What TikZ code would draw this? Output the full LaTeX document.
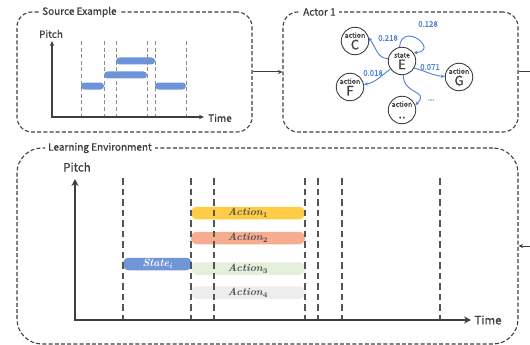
\documentclass[tikz,border=0pt]{standalone}
\usepackage{fontspec}
\newfontfamily\uifont{Noto Sans CJK KR}
\newfontfamily\uimed[FakeBold=0.9]{Noto Sans CJK KR}
\usetikzlibrary{arrows.meta}

\definecolor{ink}{HTML}{3F3F3F}
\definecolor{gridgray}{HTML}{555555}
\definecolor{notefill}{HTML}{6D93D8}
\definecolor{linkblue}{HTML}{4F80D8}
\definecolor{actone}{HTML}{FFCD45}
\definecolor{acttwo}{HTML}{F6AD8F}
\definecolor{actthree}{HTML}{E4EFDC}
\definecolor{actfour}{HTML}{EDEDED}
\definecolor{statefill}{HTML}{7096D7}
\definecolor{labelgray}{HTML}{4D4D4D}

% two-line content of a state/action circle
\newcommand{\stlabel}[2]{{\uimed\fontsize{7}{7}\selectfont #1}\\{\uimed\fontsize{13}{13}\selectfont #2}}

\begin{document}
\begin{tikzpicture}[x=1pt,y=-1pt,
  panel/.style={draw=ink, line width=1.1pt, dash pattern=on 4pt off 2.2pt, rounded corners=#1, inner sep=0pt},
  paneltitle/.style={fill=white, anchor=west, inner xsep=3pt, inner ysep=1pt, font=\uimed\fontsize{10}{12}\selectfont, text=ink},
  axislabel/.style={font=\uimed\fontsize{10}{12}\selectfont, text=ink, inner sep=0pt},
  smallaxis/.style={draw=ink, line width=1.3pt},
  bigaxis/.style={draw=ink, line width=2.4pt},
  finegrid/.style={draw=gray!90, line width=0.8pt, dash pattern=on 4pt off 2.6pt},
  coarsegrid/.style={draw=gridgray, line width=1.3pt, dash pattern=on 6.5pt off 4pt},
  notebar/.style={fill=notefill, rounded corners=3.5pt},
  statenode/.style={circle, draw=ink, line width=0.9pt, minimum size=27.5pt, inner sep=0pt, align=center, fill=white, font=\uifont\fontsize{7}{11.5}\selectfont, text=ink},
  transition/.style={draw=linkblue, line width=0.9pt, -{Stealth[length=4pt,width=3.5pt]}},
  prob/.style={font=\uimed\fontsize{7.8}{9}\selectfont, text=linkblue, inner sep=0.5pt},
  timebar/.style={rounded corners=6pt, minimum height=12.5pt, inner sep=0pt, font=\fontsize{10.5}{11}\selectfont\bfseries\itshape, text=labelgray},
  flow/.style={draw=ink, line width=1pt},
]
\useasboundingbox (0,0) rectangle (530,345);

% ---- panels ----
\node[panel=15pt, minimum width=235pt, minimum height=120pt] (src) at (134.5,72) {};
\node[panel=15pt, minimum width=235pt, minimum height=120pt] (actor) at (400.5,72) {};
\node[panel=25pt, minimum width=501pt, minimum height=196pt] (env) at (267.5,246) {};

\node[paneltitle] (srcT) at (39,12) {Source Example};
\node[paneltitle] (actT) at (300,12) {Actor 1};
\node[paneltitle] (envT) at (45,148) {Learning Environment};

% ---- flow between panels ----
\coordinate (exitR) at (530,72);
\coordinate (entryR) at (530,246);
\draw[flow, -{Stealth[length=4.5pt,width=4pt]}] (src.east) -- (actor.west);
\draw[flow] (actor.east) -- (exitR);
\draw[flow, -{Stealth[length=4.5pt,width=4pt]}] (entryR) -- (env.east);

% ---- source example: piano roll ----
\fill[notebar] (81,82.5) rectangle (104,89.5);
\fill[notebar] (104,71.5) rectangle (147,78.5);
\fill[notebar] (116,57.5) rectangle (155,64.5);
\fill[notebar] (155,82.5) rectangle (186,89.5);
\foreach \x in {81,104,116,147,155,186} \draw[finegrid] (\x,41) -- (\x,117);
\coordinate (o1) at (52,117);
\coordinate (y1) at (52,41);
\coordinate (x1) at (204,117);
\draw[smallaxis, {Stealth[length=5pt,width=4.5pt]}-{Stealth[length=5pt,width=4.5pt]}] (y1) -- (o1) -- (x1);
\node[axislabel] (p1) at (51,34) {Pitch};
\node[axislabel] (t1) at (220,118) {Time};

% ---- actor: transition graph ----
\node[statenode] (C) at (355,41) {\stlabel{action}{C}};
\node[statenode] (E) at (402,61) {\stlabel{state}{E}};
\node[statenode] (F) at (350,87) {\stlabel{action}{F}};
\node[statenode] (G) at (459,77) {\stlabel{action}{G}};
\node[statenode] (D) at (402,110) {\stlabel{action}{..}};

\draw[transition] (E.170) .. controls +(-10,0) and +(8,12) .. (C.15);
\draw[transition] (E.100) to[out=85,in=5,looseness=4.5] (E.35);
\draw[transition] (E.215) to[out=215,in=10] (F.10);
\draw[transition] (E.-30) to[out=-15,in=175] (G.178);
\draw[transition] (E.-85) .. controls +(0,20) and +(15,-15) .. (D.20);

\node[prob] (pC) at (388,38) {0.218};
\node[prob] (pE) at (428,24) {0.128};
\node[prob] (pF) at (373,73) {0.018};
\node[prob] (pG) at (430,67) {0.071};
\node[prob] (pD) at (431,100) {...};

% ---- learning environment ----
\node[timebar, fill=actone, minimum width=114pt] (a1) at (248,213) {Action\textsubscript{\upshape 1}};
\node[timebar, fill=acttwo, minimum width=114pt] (a2) at (248,238) {Action\textsubscript{\upshape 2}};
\node[timebar, fill=statefill, minimum width=69pt, text=white] (st) at (157.5,264) {State\textsubscript{i}};
\node[timebar, fill=actthree, minimum width=114pt] (a3) at (248,268.5) {Action\textsubscript{\upshape 3}};
\node[timebar, fill=actfour, minimum width=114pt] (a4) at (248,292.5) {Action\textsubscript{\upshape 4}};

\foreach \x in {123,191,214,305,318,342,440} \draw[coarsegrid] (\x,178) -- (\x,320);
\coordinate (o2) at (75,320);
\coordinate (y2) at (75,179);
\coordinate (x2) at (471,320);
\draw[bigaxis, {Stealth[length=7pt,width=7pt]}-{Stealth[length=7pt,width=7pt]}] (y2) -- (o2) -- (x2);
\node[axislabel, font=\uimed\fontsize{11.5}{13}\selectfont] (p2) at (77,167) {Pitch};
\node[axislabel, font=\uimed\fontsize{11.5}{13}\selectfont] (t2) at (488,320) {Time};
\end{tikzpicture}
\end{document}
